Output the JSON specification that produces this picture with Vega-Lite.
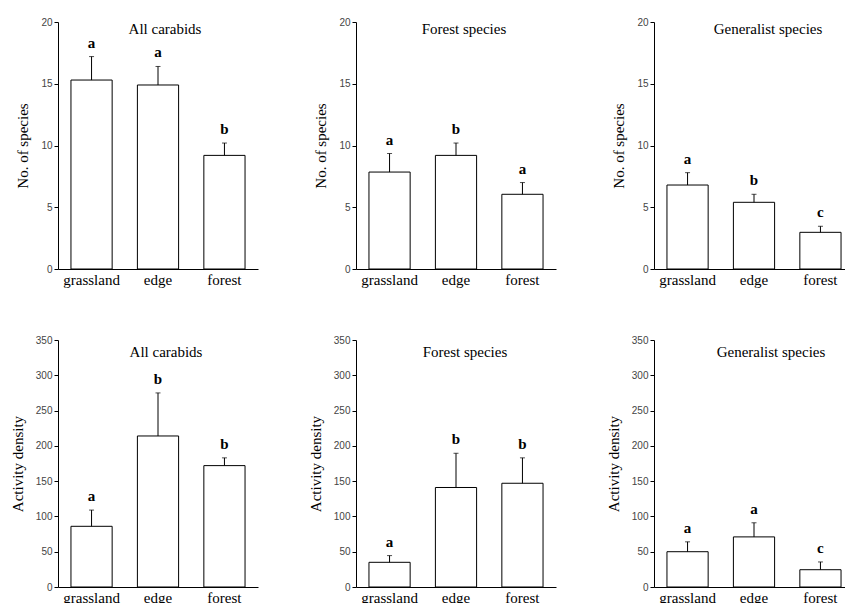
{
  "$schema": "https://vega.github.io/schema/vega-lite/v6.json",
  "background": "white",
  "padding": {"left": 10, "top": 17, "right": 0, "bottom": 0},
  "config": {
    "view": {"stroke": null},
    "font": "Liberation Serif",
    "axis": {"grid": false, "domainColor": "black", "tickColor": "black", "domainWidth": 1, "tickWidth": 1},
    "title": {"font": "Liberation Serif", "fontSize": 15, "fontWeight": "normal", "color": "black", "frame": "group", "anchor": "middle"}
  },
  "data": {"values": [
    {"panel": "A", "habitat": "grassland", "mean": 15.3, "err": 17.2, "letter": "a"},
    {"panel": "A", "habitat": "edge", "mean": 14.9, "err": 16.4, "letter": "a"},
    {"panel": "A", "habitat": "forest", "mean": 9.2, "err": 10.2, "letter": "b"},
    {"panel": "B", "habitat": "grassland", "mean": 7.85, "err": 9.35, "letter": "a"},
    {"panel": "B", "habitat": "edge", "mean": 9.2, "err": 10.2, "letter": "b"},
    {"panel": "B", "habitat": "forest", "mean": 6.05, "err": 7.0, "letter": "a"},
    {"panel": "C", "habitat": "grassland", "mean": 6.8, "err": 7.8, "letter": "a"},
    {"panel": "C", "habitat": "edge", "mean": 5.4, "err": 6.05, "letter": "b"},
    {"panel": "C", "habitat": "forest", "mean": 2.97, "err": 3.46, "letter": "c"},
    {"panel": "D", "habitat": "grassland", "mean": 86, "err": 109, "letter": "a"},
    {"panel": "D", "habitat": "edge", "mean": 214, "err": 275, "letter": "b"},
    {"panel": "D", "habitat": "forest", "mean": 172, "err": 183, "letter": "b"},
    {"panel": "E", "habitat": "grassland", "mean": 35, "err": 44.5, "letter": "a"},
    {"panel": "E", "habitat": "edge", "mean": 141, "err": 189.5, "letter": "b"},
    {"panel": "E", "habitat": "forest", "mean": 147, "err": 183, "letter": "b"},
    {"panel": "F", "habitat": "grassland", "mean": 50, "err": 64, "letter": "a"},
    {"panel": "F", "habitat": "edge", "mean": 71, "err": 91, "letter": "a"},
    {"panel": "F", "habitat": "forest", "mean": 24.5, "err": 35.5, "letter": "c"}
  ]},
  "columns": 3,
  "spacing": {"column": 50, "row": 48},
  "concat": [
    {
      "width": 200, "height": 247,
      "title": {"text": "All carabids", "offset": -20, "dx": 7},
      "transform": [{"filter": "datum.panel == 'A'"}],
      "encoding": {
        "x": {"field": "habitat", "type": "nominal", "sort": ["grassland", "edge", "forest"], "scale": {"paddingInner": 0.38, "paddingOuter": 0.195}, "axis": {"title": null, "labelAngle": 0, "ticks": false, "labelFont": "Liberation Serif", "labelFontSize": 15, "labelColor": "black", "labelPadding": 3}},
        "y": {"type": "quantitative", "scale": {"domain": [0, 20], "nice": false}, "axis": {"values": [0, 5, 10, 15, 20], "title": "No. of species", "labelFont": "Liberation Sans", "labelFontSize": 10, "labelColor": "#444", "tickSize": 4, "labelPadding": 2, "titleFont": "Liberation Serif", "titleFontSize": 15, "titleFontWeight": "normal", "titleColor": "black", "titlePadding": 10}}
      },
      "layer": [
        {"mark": {"type": "bar", "fill": "white", "stroke": "black", "strokeWidth": 1}, "encoding": {"y": {"field": "mean", "type": "quantitative"}}},
        {"mark": {"type": "rule", "color": "black"}, "encoding": {"y": {"field": "mean", "type": "quantitative"}, "y2": {"field": "err"}}},
        {"mark": {"type": "tick", "color": "black", "size": 5, "thickness": 1}, "encoding": {"y": {"field": "err", "type": "quantitative"}}},
        {"mark": {"type": "text", "font": "Liberation Serif", "fontSize": 15, "fontWeight": "bold", "baseline": "middle", "dy": -14}, "encoding": {"y": {"field": "err", "type": "quantitative"}, "text": {"field": "letter"}}}
      ]
    },
    {
      "width": 200, "height": 247,
      "title": {"text": "Forest species", "offset": -20, "dx": 8},
      "transform": [{"filter": "datum.panel == 'B'"}],
      "encoding": {
        "x": {"field": "habitat", "type": "nominal", "sort": ["grassland", "edge", "forest"], "scale": {"paddingInner": 0.38, "paddingOuter": 0.195}, "axis": {"title": null, "labelAngle": 0, "ticks": false, "labelFont": "Liberation Serif", "labelFontSize": 15, "labelColor": "black", "labelPadding": 3}},
        "y": {"type": "quantitative", "scale": {"domain": [0, 20], "nice": false}, "axis": {"values": [0, 5, 10, 15, 20], "title": "No. of species", "labelFont": "Liberation Sans", "labelFontSize": 10, "labelColor": "#444", "tickSize": 4, "labelPadding": 2, "titleFont": "Liberation Serif", "titleFontSize": 15, "titleFontWeight": "normal", "titleColor": "black", "titlePadding": 10}}
      },
      "layer": [
        {"mark": {"type": "bar", "fill": "white", "stroke": "black", "strokeWidth": 1}, "encoding": {"y": {"field": "mean", "type": "quantitative"}}},
        {"mark": {"type": "rule", "color": "black"}, "encoding": {"y": {"field": "mean", "type": "quantitative"}, "y2": {"field": "err"}}},
        {"mark": {"type": "tick", "color": "black", "size": 5, "thickness": 1}, "encoding": {"y": {"field": "err", "type": "quantitative"}}},
        {"mark": {"type": "text", "font": "Liberation Serif", "fontSize": 15, "fontWeight": "bold", "baseline": "middle", "dy": -14}, "encoding": {"y": {"field": "err", "type": "quantitative"}, "text": {"field": "letter"}}}
      ]
    },
    {
      "width": 200, "height": 247,
      "title": {"text": "Generalist species", "offset": -20, "dx": 14},
      "transform": [{"filter": "datum.panel == 'C'"}],
      "encoding": {
        "x": {"field": "habitat", "type": "nominal", "sort": ["grassland", "edge", "forest"], "scale": {"paddingInner": 0.38, "paddingOuter": 0.195}, "axis": {"title": null, "labelAngle": 0, "ticks": false, "labelFont": "Liberation Serif", "labelFontSize": 15, "labelColor": "black", "labelPadding": 3}},
        "y": {"type": "quantitative", "scale": {"domain": [0, 20], "nice": false}, "axis": {"values": [0, 5, 10, 15, 20], "title": "No. of species", "labelFont": "Liberation Sans", "labelFontSize": 10, "labelColor": "#444", "tickSize": 4, "labelPadding": 2, "titleFont": "Liberation Serif", "titleFontSize": 15, "titleFontWeight": "normal", "titleColor": "black", "titlePadding": 10}}
      },
      "layer": [
        {"mark": {"type": "bar", "fill": "white", "stroke": "black", "strokeWidth": 1}, "encoding": {"y": {"field": "mean", "type": "quantitative"}}},
        {"mark": {"type": "rule", "color": "black"}, "encoding": {"y": {"field": "mean", "type": "quantitative"}, "y2": {"field": "err"}}},
        {"mark": {"type": "tick", "color": "black", "size": 5, "thickness": 1}, "encoding": {"y": {"field": "err", "type": "quantitative"}}},
        {"mark": {"type": "text", "font": "Liberation Serif", "fontSize": 15, "fontWeight": "bold", "baseline": "middle", "dy": -14}, "encoding": {"y": {"field": "err", "type": "quantitative"}, "text": {"field": "letter"}}}
      ]
    },
    {
      "width": 200, "height": 247,
      "title": {"text": "All carabids", "offset": -25, "dx": 8},
      "transform": [{"filter": "datum.panel == 'D'"}],
      "encoding": {
        "x": {"field": "habitat", "type": "nominal", "sort": ["grassland", "edge", "forest"], "scale": {"paddingInner": 0.38, "paddingOuter": 0.195}, "axis": {"title": null, "labelAngle": 0, "ticks": false, "labelFont": "Liberation Serif", "labelFontSize": 15, "labelColor": "black", "labelPadding": 3}},
        "y": {"type": "quantitative", "scale": {"domain": [0, 350], "nice": false}, "axis": {"values": [0, 50, 100, 150, 200, 250, 300, 350], "title": "Activity density", "labelFont": "Liberation Sans", "labelFontSize": 10, "labelColor": "#444", "tickSize": 4, "labelPadding": 2, "titleFont": "Liberation Serif", "titleFontSize": 15, "titleFontWeight": "normal", "titleColor": "black", "titlePadding": 10}}
      },
      "layer": [
        {"mark": {"type": "bar", "fill": "white", "stroke": "black", "strokeWidth": 1}, "encoding": {"y": {"field": "mean", "type": "quantitative"}}},
        {"mark": {"type": "rule", "color": "black"}, "encoding": {"y": {"field": "mean", "type": "quantitative"}, "y2": {"field": "err"}}},
        {"mark": {"type": "tick", "color": "black", "size": 5, "thickness": 1}, "encoding": {"y": {"field": "err", "type": "quantitative"}}},
        {"mark": {"type": "text", "font": "Liberation Serif", "fontSize": 15, "fontWeight": "bold", "baseline": "middle", "dy": -14}, "encoding": {"y": {"field": "err", "type": "quantitative"}, "text": {"field": "letter"}}}
      ]
    },
    {
      "width": 200, "height": 247,
      "title": {"text": "Forest species", "offset": -25, "dx": 9},
      "transform": [{"filter": "datum.panel == 'E'"}],
      "encoding": {
        "x": {"field": "habitat", "type": "nominal", "sort": ["grassland", "edge", "forest"], "scale": {"paddingInner": 0.38, "paddingOuter": 0.195}, "axis": {"title": null, "labelAngle": 0, "ticks": false, "labelFont": "Liberation Serif", "labelFontSize": 15, "labelColor": "black", "labelPadding": 3}},
        "y": {"type": "quantitative", "scale": {"domain": [0, 350], "nice": false}, "axis": {"values": [0, 50, 100, 150, 200, 250, 300, 350], "title": "Activity density", "labelFont": "Liberation Sans", "labelFontSize": 10, "labelColor": "#444", "tickSize": 4, "labelPadding": 2, "titleFont": "Liberation Serif", "titleFontSize": 15, "titleFontWeight": "normal", "titleColor": "black", "titlePadding": 10}}
      },
      "layer": [
        {"mark": {"type": "bar", "fill": "white", "stroke": "black", "strokeWidth": 1}, "encoding": {"y": {"field": "mean", "type": "quantitative"}}},
        {"mark": {"type": "rule", "color": "black"}, "encoding": {"y": {"field": "mean", "type": "quantitative"}, "y2": {"field": "err"}}},
        {"mark": {"type": "tick", "color": "black", "size": 5, "thickness": 1}, "encoding": {"y": {"field": "err", "type": "quantitative"}}},
        {"mark": {"type": "text", "font": "Liberation Serif", "fontSize": 15, "fontWeight": "bold", "baseline": "middle", "dy": -14}, "encoding": {"y": {"field": "err", "type": "quantitative"}, "text": {"field": "letter"}}}
      ]
    },
    {
      "width": 200, "height": 247,
      "title": {"text": "Generalist species", "offset": -25, "dx": 17},
      "transform": [{"filter": "datum.panel == 'F'"}],
      "encoding": {
        "x": {"field": "habitat", "type": "nominal", "sort": ["grassland", "edge", "forest"], "scale": {"paddingInner": 0.38, "paddingOuter": 0.195}, "axis": {"title": null, "labelAngle": 0, "ticks": false, "labelFont": "Liberation Serif", "labelFontSize": 15, "labelColor": "black", "labelPadding": 3}},
        "y": {"type": "quantitative", "scale": {"domain": [0, 350], "nice": false}, "axis": {"values": [0, 50, 100, 150, 200, 250, 300, 350], "title": "Activity density", "labelFont": "Liberation Sans", "labelFontSize": 10, "labelColor": "#444", "tickSize": 4, "labelPadding": 2, "titleFont": "Liberation Serif", "titleFontSize": 15, "titleFontWeight": "normal", "titleColor": "black", "titlePadding": 10}}
      },
      "layer": [
        {"mark": {"type": "bar", "fill": "white", "stroke": "black", "strokeWidth": 1}, "encoding": {"y": {"field": "mean", "type": "quantitative"}}},
        {"mark": {"type": "rule", "color": "black"}, "encoding": {"y": {"field": "mean", "type": "quantitative"}, "y2": {"field": "err"}}},
        {"mark": {"type": "tick", "color": "black", "size": 5, "thickness": 1}, "encoding": {"y": {"field": "err", "type": "quantitative"}}},
        {"mark": {"type": "text", "font": "Liberation Serif", "fontSize": 15, "fontWeight": "bold", "baseline": "middle", "dy": -14}, "encoding": {"y": {"field": "err", "type": "quantitative"}, "text": {"field": "letter"}}}
      ]
    }
  ]
}
